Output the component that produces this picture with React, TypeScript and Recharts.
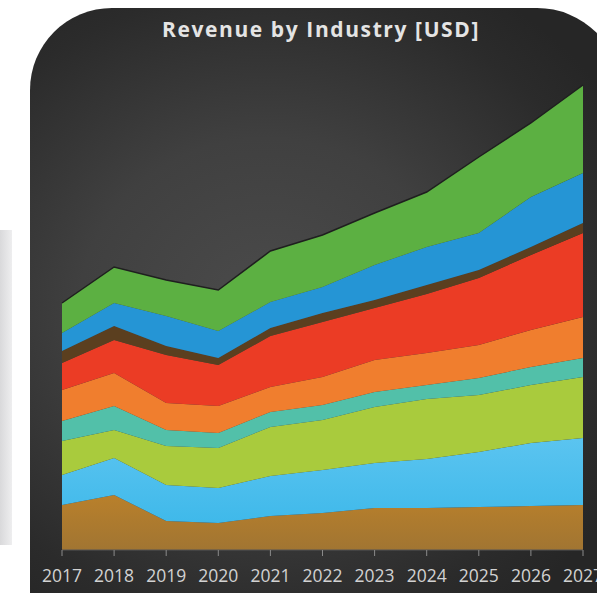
import { Area, AreaChart, XAxis, YAxis } from "recharts";

// values (stacked, bottom layer first)
const years = ["2017", "2018", "2019", "2020", "2021", "2022", "2023", "2024", "2025", "2026", "2027"];
const ochre = [9.0, 11.0, 5.8, 5.4, 6.8, 7.4, 8.4, 8.4, 8.6, 8.8, 9.0];
const skyBlue = [6.0, 7.4, 7.2, 7.0, 8.0, 8.6, 9.0, 9.8, 11.0, 12.6, 13.4];
const lime = [6.8, 5.6, 7.8, 8.0, 9.8, 10.0, 11.2, 12.0, 11.4, 11.6, 12.2];
const teal = [4.0, 4.8, 3.2, 3.0, 3.0, 3.0, 3.0, 2.8, 3.4, 3.6, 3.8];
const orange = [6.2, 6.6, 5.4, 5.4, 5.0, 5.6, 6.4, 6.4, 6.6, 7.4, 8.2];
const red = [5.4, 6.6, 9.6, 8.2, 10.2, 11.0, 10.4, 11.8, 13.4, 15.0, 16.8];
const umber = [2.4, 2.8, 1.8, 1.4, 1.6, 1.8, 1.6, 1.8, 1.6, 1.6, 2.0];
const blue = [3.6, 4.6, 6.0, 5.4, 5.2, 5.2, 7.0, 7.6, 7.4, 10.0, 10.0];
const green = [6.0, 7.2, 7.2, 8.2, 10.2, 10.4, 10.4, 11.0, 15.2, 14.8, 17.6];

const layers = [
  { key: "ochre", values: ochre, fill: "url(#ochreFill)" },
  { key: "skyBlue", values: skyBlue, fill: "url(#skyFill)" },
  { key: "lime", values: lime, fill: "#a9cb3d" },
  { key: "teal", values: teal, fill: "#52c0a9" },
  { key: "orange", values: orange, fill: "#f07e2e" },
  { key: "red", values: red, fill: "#eb3c25" },
  { key: "umber", values: umber, fill: "#5b3f1f" },
  { key: "blue", values: blue, fill: "#2595d5" },
  { key: "green", values: green, fill: "#5cb042" },
];

const data = years.map((year, i) => {
  const row: Record<string, string | number> = { year };
  layers.forEach((l) => {
    row[l.key] = l.values[i];
  });
  return row;
});

const font = '"Open Sans", "DejaVu Sans", sans-serif';

export default function App() {
  return (
    <div
      style={{
        position: "absolute",
        top: 0,
        left: 0,
        width: 597,
        height: 593,
        overflow: "hidden",
        background: "#ffffff",
        fontFamily: font,
      }}
    >
      <div
        style={{
          position: "absolute",
          left: 0,
          top: 230,
          width: 12,
          height: 315,
          background: "linear-gradient(to right, #d9d9db, #eeeeef)",
        }}
      />
      <div
        style={{
          position: "absolute",
          left: 30,
          top: 8,
          width: 591,
          height: 620,
          borderRadius: "82px 84px 0 0",
          background:
            "radial-gradient(ellipse 70% 60% at 40% 48%, #4b4b4b 0%, #404040 45%, #2b2b2b 85%, #262626 100%)",
        }}
      />
      <div
        style={{
          position: "absolute",
          top: 15,
          left: 121,
          width: 400,
          textAlign: "center",
          color: "#e4e4e4",
          fontSize: 21,
          fontWeight: 700,
          letterSpacing: 1.6,
        }}
      >
        Revenue by Industry [USD]
      </div>
      <div style={{ position: "absolute", top: 0, left: 0 }}>
        <AreaChart width={597} height={593} data={data} margin={{ top: 50, right: 14, left: 62, bottom: 0 }}>
          <defs>
            <linearGradient id="ochreFill" x1="0" y1="0" x2="0" y2="1">
              <stop offset="0%" stopColor="#b9802b" />
              <stop offset="100%" stopColor="#a17532" />
            </linearGradient>
            <linearGradient id="skyFill" x1="0" y1="0" x2="0" y2="1">
              <stop offset="0%" stopColor="#5bc4f0" />
              <stop offset="100%" stopColor="#3fb9ea" />
            </linearGradient>
          </defs>
          <XAxis
            dataKey="year"
            height={43}
            tick={{ fill: "#d2d2d2", fontSize: 17.5, fontFamily: font }}
            tickSize={6}
            tickMargin={14}
            tickLine={{ stroke: "#8a8a8a" }}
            axisLine={{ stroke: "#555555" }}
            interval={0}
          />
          <YAxis hide domain={[0, 100]} />
          {layers.map((l) => (
            <Area
              key={l.key}
              dataKey={l.key}
              stackId="1"
              type="linear"
              fill={l.fill}
              fillOpacity={1}
              stroke={l.key === "green" ? "#1f1f1f" : "none"}
              strokeWidth={l.key === "green" ? 1.5 : 0}
              isAnimationActive={false}
            />
          ))}
        </AreaChart>
      </div>
    </div>
  );
}
